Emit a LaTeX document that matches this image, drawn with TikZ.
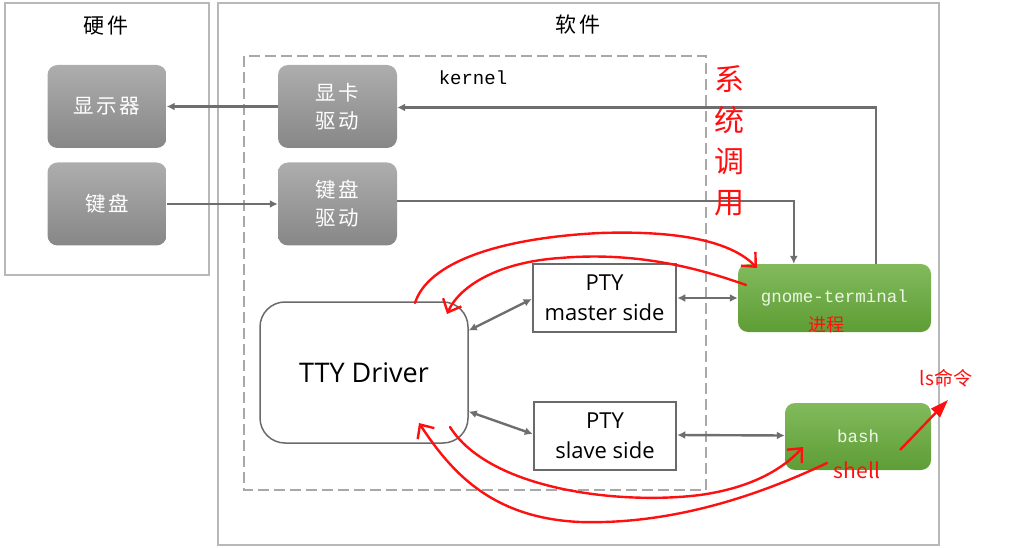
\documentclass[tikz,border=0pt]{standalone}
\usepackage{fontspec}
\usetikzlibrary{arrows.meta}
\newfontfamily\cjk{Noto Sans CJK SC}
\newfontfamily\cjkwide[LetterSpace=12]{Noto Sans CJK SC}
\newfontfamily\lat{Open Sans}
\newfontfamily\mono{Liberation Mono}
\definecolor{framegray}{HTML}{B8B8B8}
\definecolor{dashgray}{HTML}{A8A8A8}
\definecolor{arrgray}{HTML}{6E6E6E}
\definecolor{boxgray}{HTML}{6A6A6A}
\definecolor{gtop}{HTML}{82BA5C}
\definecolor{gbot}{HTML}{5E9D35}
\definecolor{gtext}{HTML}{EEF5E8}
\definecolor{graytop}{HTML}{ADADAD}
\definecolor{graybot}{HTML}{878787}
\definecolor{redink}{HTML}{FF1010}
\begin{document}
\begin{tikzpicture}[x=1pt,y=-1pt,
  >={Latex[length=8pt,width=8pt]},
  frame/.style={draw=framegray, line width=2.5pt},
  graybox/.style={rounded corners=10pt, top color=graytop, bottom color=graybot, text=white,
    font=\cjkwide\fontsize{20.5}{28}\selectfont, minimum width=119pt, minimum height=83pt, align=center, inner sep=0pt},
  ptybox/.style={draw=boxgray, line width=2.5pt, fill=white, font=\lat\fontsize{22}{30}\selectfont,
    align=center, inner sep=0pt},
  greenbox/.style={rounded corners=10pt, top color=gtop, bottom color=gbot, text=gtext,
    font=\mono\fontsize{17.5}{20}\selectfont, inner sep=0pt},
  arr/.style={draw=arrgray, line width=2.4pt},
  redcurve/.style={draw=redink, line width=2.4pt, line cap=round,
    -{Straight Barb[length=11pt,width=20pt,line width=2.4pt]}},
  redtxt/.style={text=redink, inner sep=0pt}
]
\useasboundingbox (0,0) rectangle (1020,548);
% frames
\draw[frame] (5,3) rectangle (209,275);
\draw[frame] (218,3) rectangle (939,545);
\node[font=\cjkwide\fontsize{21}{24}\selectfont] (hw) at (106,26) {硬件};
\node[font=\cjkwide\fontsize{21}{24}\selectfont] (sw) at (578,25) {软件};
% kernel dashed box
\draw[draw=dashgray, line width=2.2pt, dash pattern=on 11pt off 5pt] (244,56) rectangle (706,490);
\node[font=\mono\fontsize{19}{22}\selectfont] (kern) at (473,78) {kernel};
% gray boxes
\node[graybox] (disp) at (107,106.5) {显示器};
\node[graybox] (kbd) at (107,204) {键盘};
\node[graybox] (gpu) at (337.5,106.5) {显卡\\驱动};
\node[graybox] (kdrv) at (337.5,204) {键盘\\驱动};
% main boxes
\node[draw=boxgray, line width=1.5pt, rounded corners=25pt, minimum width=208pt, minimum height=141pt,
  font=\lat\fontsize{27}{32}\selectfont, inner sep=0pt] (tty) at (364,372.5) {TTY Driver};
\node[ptybox, minimum width=143pt, minimum height=68pt] (master) at (604.5,298) {PTY\\master side};
\node[ptybox, minimum width=142pt, minimum height=68pt] (slave) at (605,436) {PTY\\slave side};
\node[greenbox, minimum width=193pt, minimum height=68pt] (gnome) at (834.5,298) {\raisebox{-3pt}{gnome-terminal}};
\node[greenbox, minimum width=146pt, minimum height=67pt] (bash) at (858,436.5) {bash};
% gray connectors
\draw[arr,<-] (disp.east) -- (gpu.west);
\draw[arr,->] (kbd.east) -- (kdrv.west);
\draw[arr,->] (gnome.north east) ++(-55,0) |- ([yshift=-1pt]gpu.east);
\draw[arr,->] ([yshift=3pt]kdrv.east) -| ([xshift=56pt]gnome.north west);
\draw[arr,<->] ([yshift=42pt]tty.east) -- ([yshift=-1pt]master.west);
\draw[arr,<->] ([yshift=-39pt]tty.east) -- ([yshift=2pt]slave.west);
\draw[arr,<->] (master.east) -- (gnome.west);
\draw[arr,<->] ([yshift=1pt]slave.east) -- ([yshift=1pt]bash.west);
% red annotations
\node[redtxt, align=center, font=\cjk\fontsize{30}{41}\selectfont] (sys) at (729,141) {系\\统\\调\\用};
\node[redtxt, font=\cjk\fontsize{18}{20}\selectfont] (proc) at (826,325) {进程};
\node[redtxt, font=\cjk\fontsize{21}{24}\selectfont] (shl) at (857,470) {shell};
\node[redtxt, font=\cjk\fontsize{19}{22}\selectfont] (lscmd) at (946,378) {ls命令};
\draw[redcurve] (415,303) .. controls (428,262) and (500,238) .. (600,233)
  .. controls (690,230) and (735,245) .. (757,268);
\draw[redcurve] (746,285) .. controls (690,265) and (630,252) .. (560,258)
  .. controls (500,262) and (460,285) .. (447,314);
\draw[redcurve] (450,427) .. controls (490,490) and (620,505) .. (700,495)
  .. controls (750,488) and (782,470) .. (803,447);
\draw[redcurve] (827,463) .. controls (770,490) and (680,525) .. (580,522)
  .. controls (490,518) and (450,470) .. (419,423);
\draw[draw=redink, line width=2.4pt, -{Triangle[length=18pt,width=12pt]}] (900,450) -- (948,400);
\end{tikzpicture}
\end{document}
